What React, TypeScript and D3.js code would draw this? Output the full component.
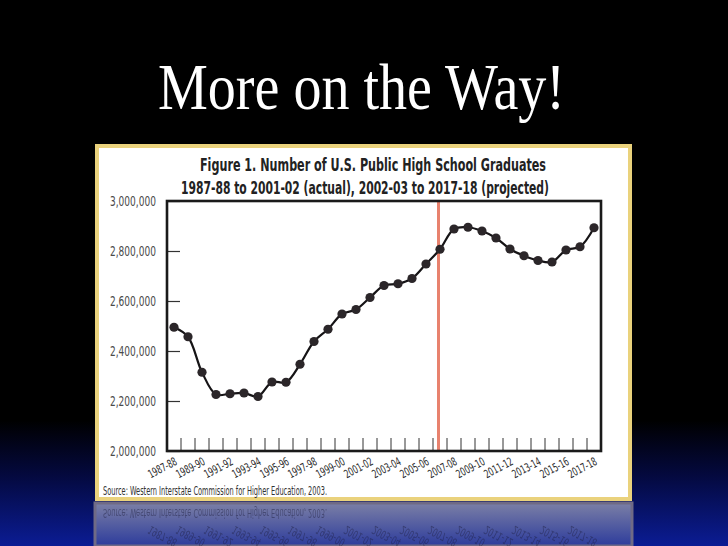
import * as d3 from "d3";
import { useRef, useEffect } from "react";

const years = [
  "1987-88", "1988-89", "1989-90", "1990-91", "1991-92", "1992-93", "1993-94", "1994-95",
  "1995-96", "1996-97", "1997-98", "1998-99", "1999-00", "2000-01", "2001-02", "2002-03",
  "2003-04", "2004-05", "2005-06", "2006-07", "2007-08", "2008-09", "2009-10", "2010-11",
  "2011-12", "2012-13", "2013-14", "2014-15", "2015-16", "2016-17", "2017-18",
];

const graduates = [
  2495000, 2457000, 2315000, 2226000, 2229000, 2232000, 2218000, 2276000,
  2275000, 2347000, 2438000, 2487000, 2548000, 2566000, 2614000, 2662000,
  2669000, 2690000, 2748000, 2807000, 2888000, 2895000, 2880000, 2852000,
  2808000, 2781000, 2762000, 2756000, 2804000, 2817000, 2893000,
];

const labelYears = [
  "1987-88", "1989-90", "1991-92", "1993-94", "1995-96", "1997-98", "1999-00", "2001-02",
  "2003-04", "2005-06", "2007-08", "2009-10", "2011-12", "2013-14", "2015-16", "2017-18",
];

const yTicks = [2000000, 2200000, 2400000, 2600000, 2800000, 3000000];
const projectionYear = "2006-07";

const slideTitle = "More on the Way!";
const chartTitle1 = "Figure 1. Number of U.S. Public High School Graduates";
const chartTitle2 = "1987-88 to 2001-02 (actual), 2002-03 to 2017-18 (projected)";
const sourceNote = "Source: Western Interstate Commission for Higher Education, 2003.";

const W = 728;
const H = 546;
const plot = { left: 167, right: 601, top: 201, bottom: 451 };
const narrow = "'Liberation Sans Narrow', 'DejaVu Sans Condensed', 'Arial Narrow', 'DejaVu Sans', sans-serif";

const x = d3.scaleBand<string>().domain(years).range([plot.left, plot.right]).padding(0);
const y = d3.scaleLinear().domain([2000000, 3000000]).range([plot.bottom, plot.top]);
const cx = (yr: string) => (x(yr) ?? 0) + x.bandwidth() / 2;

const line = d3.line<number>()
  .x((_, i) => cx(years[i]))
  .y(d => y(d))
  .curve(d3.curveCatmullRom.alpha(0.5));

const fmt = d3.format(",");

function XLabels({ color }: { color: string }) {
  return (
    <g fontFamily={narrow} fontSize={11.5} fill={color}>
      {labelYears.map(yr => (
        <text key={yr} textAnchor="end" textLength={31} lengthAdjust="spacingAndGlyphs"
          transform={`translate(${cx(yr) + 4},${plot.bottom + 13}) rotate(-28)`}>
          {yr}
        </text>
      ))}
    </g>
  );
}

function SourceText({ color }: { color: string }) {
  return (
    <text x={103} y={495} fontFamily={narrow} fontSize={11.5} fill={color} textLength={224} lengthAdjust="spacingAndGlyphs">
      {sourceNote}
    </text>
  );
}

export default function App() {
  const gy = useRef<SVGGElement>(null);

  useEffect(() => {
    if (!gy.current) return;
    const g = d3.select(gy.current);
    g.call(d3.axisLeft(y).tickValues(yTicks).tickFormat(d => fmt(d as number)).tickSizeInner(-13).tickSizeOuter(0).tickPadding(11));
    g.select(".domain").remove();
    g.selectAll(".tick line").attr("stroke", "#333").attr("stroke-width", 1.2);
    g.selectAll(".tick text")
      .attr("fill", "#4a4a4a")
      .attr("font-size", 13.5)
      .attr("font-family", narrow)
      .attr("textLength", 46)
      .attr("lengthAdjust", "spacingAndGlyphs");
  }, []);

  const mirrorY = 502;

  return (
    <svg width={W} height={H} style={{ position: "absolute", left: 0, top: 0, display: "block" }}>
      <defs>
        <linearGradient id="bg" x1="0" y1="0" x2="0" y2="1">
          <stop offset="0" stopColor="#000000" />
          <stop offset="0.77" stopColor="#000000" />
          <stop offset="0.87" stopColor="#04093e" />
          <stop offset="1" stopColor="#0b1c94" />
        </linearGradient>
        <linearGradient id="refl" x1="0" y1="0" x2="0" y2="1">
          <stop offset="0" stopColor="#7b7fa6" />
          <stop offset="1" stopColor="#2d3c9c" />
        </linearGradient>
        <clipPath id="reflClip">
          <rect x={96} y={504} width={534} height={H - 504} />
        </clipPath>
      </defs>

      <rect width={W} height={H} fill="url(#bg)" />

      <text x={361.5} y={109} textAnchor="middle" fill="#fff" fontFamily="'Liberation Serif', 'Times New Roman', serif"
        fontSize={66} textLength={407} lengthAdjust="spacingAndGlyphs">
        {slideTitle}
      </text>

      {/* reflection of the panel */}
      <rect x={95} y={503} width={537} height={H - 503} fill="url(#refl)" stroke="#6f6a86" strokeWidth={3} />
      <g clipPath="url(#reflClip)" opacity={0.45}>
        <g transform={`translate(0,${2 * mirrorY}) scale(1,-1)`}>
          <SourceText color="#1c1c3a" />
          <XLabels color="#1c1c3a" />
        </g>
      </g>

      {/* panel */}
      <rect x={97} y={146} width={533} height={353} fill="#fff" stroke="#ead27c" strokeWidth={4} />

      <text x={373} y={171} textAnchor="middle" fontFamily={narrow} fontWeight="bold" fontSize={17} fill="#222"
        textLength={346} lengthAdjust="spacingAndGlyphs">
        {chartTitle1}
      </text>
      <text x={365} y={194} textAnchor="middle" fontFamily={narrow} fontWeight="bold" fontSize={17} fill="#222"
        textLength={368} lengthAdjust="spacingAndGlyphs">
        {chartTitle2}
      </text>

      <g ref={gy} transform={`translate(${plot.left},0)`} />

      {/* year ticks at band boundaries */}
      <g stroke="#333" strokeWidth={1}>
        {years.slice(1).map(yr => (
          <line key={yr} x1={x(yr)} x2={x(yr)} y1={plot.bottom} y2={plot.bottom - 13} />
        ))}
      </g>

      <line x1={cx(projectionYear) - 1.5} x2={cx(projectionYear) - 1.5} y1={plot.top} y2={plot.bottom}
        stroke="#e8826e" strokeWidth={3} />

      <rect x={plot.left} y={plot.top} width={plot.right - plot.left} height={plot.bottom - plot.top}
        fill="none" stroke="#1a1a1a" strokeWidth={2.6} />

      <path d={line(graduates) || ""} fill="none" stroke="#161416" strokeWidth={2.2} />
      <g fill="#2b2629">
        {graduates.map((v, i) => (
          <circle key={years[i]} cx={cx(years[i])} cy={y(v)} r={4.6} />
        ))}
      </g>

      <XLabels color="#2a2a2a" />
      <SourceText color="#333" />
    </svg>
  );
}
